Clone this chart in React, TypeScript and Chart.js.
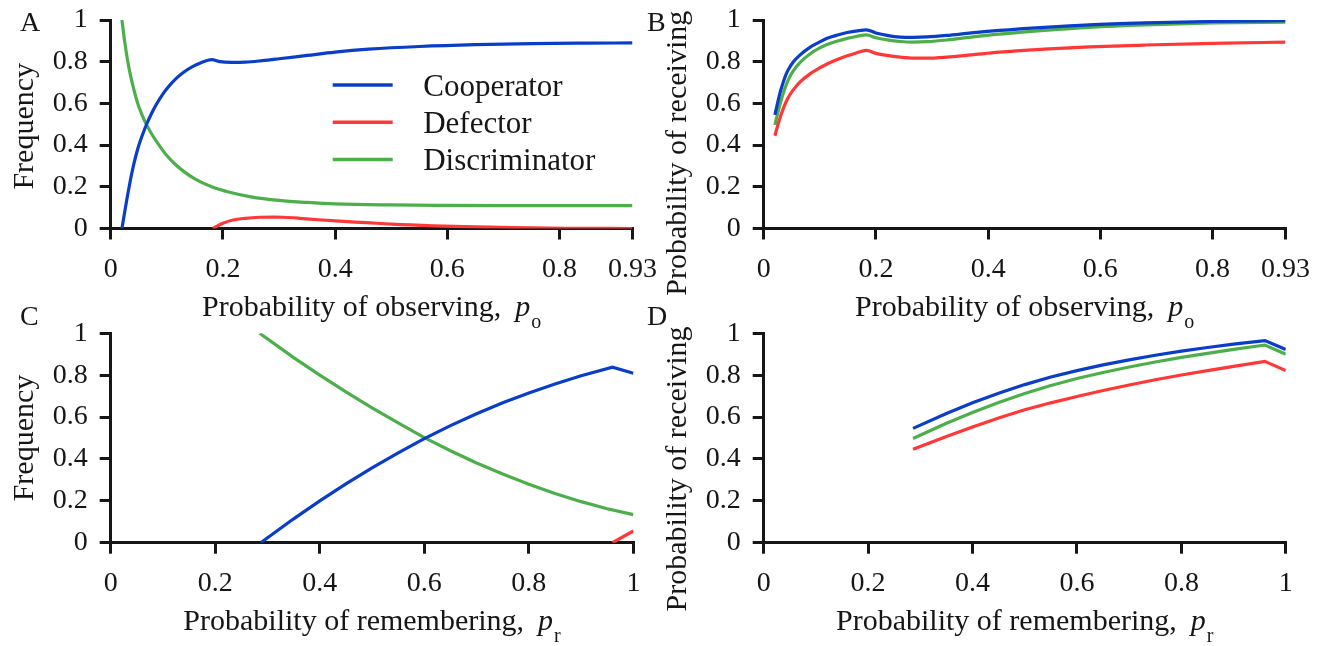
import React, { useEffect, useRef } from 'react';
import { Chart, registerables } from 'chart.js';

Chart.register(...registerables);

const SERIF = "'Liberation Serif', 'Times New Roman', Times, serif";
const INK = '#161616';
const BLUE = '#0a3ec8';
const RED = '#ff3737';
const GREEN = '#4caf4a';

const SERIES_NAMES = ['Cooperator', 'Defector', 'Discriminator'];

// Tick values
const obsTicks = [0, 0.2, 0.4, 0.6, 0.8, 0.93];
const remTicks = [0, 0.2, 0.4, 0.6, 0.8, 1];
const unitTicks = [0, 0.2, 0.4, 0.6, 0.8, 1];

// A: frequency vs probability of observing
const coopObsX = [0.02, 0.025, 0.03, 0.035, 0.04, 0.045, 0.05, 0.056, 0.064, 0.073, 0.082, 0.092, 0.1, 0.115, 0.13, 0.145, 0.16, 0.18, 0.195, 0.215, 0.24, 0.27, 0.3, 0.35, 0.4, 0.46, 0.55, 0.65, 0.75, 0.85, 0.93];
const coopObsFreq = [0, 0.08, 0.158, 0.23, 0.295, 0.35, 0.398, 0.445, 0.5, 0.553, 0.598, 0.641, 0.67, 0.715, 0.749, 0.775, 0.794, 0.81, 0.8, 0.797, 0.798, 0.805, 0.814, 0.83, 0.846, 0.86, 0.873, 0.882, 0.887, 0.889, 0.89];
const defObsX = [0.182, 0.2, 0.218, 0.24, 0.266, 0.29, 0.307, 0.337, 0.37, 0.408, 0.456, 0.5, 0.575, 0.65, 0.693, 0.75, 0.812, 0.93];
const defObsFreq = [0, 0.025, 0.041, 0.049, 0.054, 0.055, 0.054, 0.049, 0.042, 0.035, 0.028, 0.021, 0.013, 0.008, 0.006, 0.003, 0.001, 0];
const discObsX = [0.02, 0.025, 0.03, 0.035, 0.04, 0.0475, 0.055, 0.064, 0.075, 0.088, 0.1, 0.115, 0.13, 0.15, 0.18, 0.21, 0.25, 0.3, 0.35, 0.4, 0.5, 0.6, 0.7, 0.8, 0.93];
const discObsFreq = [1.0, 0.895, 0.808, 0.738, 0.68, 0.605, 0.55, 0.497, 0.445, 0.393, 0.35, 0.308, 0.274, 0.238, 0.2, 0.175, 0.152, 0.135, 0.125, 0.118, 0.113, 0.111, 0.11, 0.11, 0.11];

// B: probability of receiving vs probability of observing
const recvObsX = [0.02, 0.025, 0.03, 0.035, 0.04, 0.045, 0.053, 0.065, 0.083, 0.1, 0.113, 0.13, 0.149, 0.165, 0.183, 0.2, 0.22, 0.243, 0.267, 0.291, 0.326, 0.37, 0.42, 0.5, 0.58, 0.68, 0.8, 0.93];
const coopObsRecv = [0.545, 0.605, 0.66, 0.703, 0.74, 0.767, 0.8, 0.833, 0.87, 0.895, 0.912, 0.927, 0.94, 0.947, 0.953, 0.938, 0.926, 0.918, 0.917, 0.919, 0.926, 0.938, 0.95, 0.965, 0.977, 0.986, 0.993, 0.997];
const defObsRecv = [0.445, 0.494, 0.538, 0.576, 0.608, 0.634, 0.666, 0.703, 0.743, 0.771, 0.789, 0.809, 0.828, 0.842, 0.854, 0.84, 0.83, 0.822, 0.817, 0.817, 0.822, 0.833, 0.846, 0.86, 0.871, 0.88, 0.888, 0.894];
const discObsRecv = [0.497, 0.553, 0.604, 0.65, 0.688, 0.72, 0.757, 0.797, 0.838, 0.866, 0.882, 0.898, 0.912, 0.921, 0.929, 0.915, 0.905, 0.897, 0.894, 0.896, 0.904, 0.918, 0.932, 0.95, 0.965, 0.977, 0.986, 0.99];

// C: frequency vs probability of remembering
const coopRemX = [0.287, 0.35, 0.4, 0.45, 0.5, 0.55, 0.6, 0.65, 0.7, 0.75, 0.8, 0.85, 0.9, 0.96, 1.0];
const coopRemFreq = [0, 0.114, 0.2, 0.281, 0.357, 0.429, 0.497, 0.559, 0.616, 0.668, 0.715, 0.758, 0.797, 0.838, 0.809];
const defRemX = [0.96, 1.0];
const defRemFreq = [0, 0.056];
const discRemX = [0.285, 0.35, 0.4, 0.45, 0.5, 0.55, 0.6, 0.65, 0.7, 0.75, 0.8, 0.85, 0.9, 0.95, 1.0];
const discRemFreq = [1.0, 0.884, 0.8, 0.72, 0.644, 0.572, 0.502, 0.439, 0.381, 0.328, 0.279, 0.235, 0.196, 0.162, 0.134];

// D: probability of receiving vs probability of remembering
const recvRemX = [0.286, 0.35, 0.4, 0.45, 0.5, 0.55, 0.6, 0.65, 0.7, 0.75, 0.8, 0.85, 0.9, 0.96, 1.0];
const coopRemRecv = [0.546, 0.617, 0.668, 0.714, 0.755, 0.791, 0.822, 0.849, 0.873, 0.895, 0.915, 0.932, 0.948, 0.965, 0.923];
const defRemRecv = [0.446, 0.507, 0.553, 0.596, 0.635, 0.668, 0.698, 0.727, 0.753, 0.778, 0.801, 0.822, 0.842, 0.866, 0.822];
const discRemRecv = [0.498, 0.57, 0.622, 0.67, 0.713, 0.751, 0.784, 0.813, 0.839, 0.863, 0.885, 0.904, 0.923, 0.944, 0.9];

const pts = (xs: number[], ys: number[]) => xs.map((x, i) => ({ x, y: ys[i] }));

const fmtTick = (v: number) => {
  if (Math.abs(v - 0.93) < 1e-9) return '0.93';
  if (Math.abs(v) < 1e-9) return '0';
  if (Math.abs(v - 1) < 1e-9) return '1';
  return v.toFixed(1);
};

type Series = { xs: number[]; ys: number[]; color: string; label: string };
type Panel = {
  letter: string;
  box: { left: number; top: number; width: number; height: number };
  area: { left: number; top: number; right: number; bottom: number };
  xMax: number;
  xTicks: number[];
  series: Series[];
  smooth: boolean;
  letterPos: [number, number];
  xTitle: string;
  xSub: string;
  yTitle: string;
  yShift: number;
  legend: boolean;
};

const mk = (xsA: number[][], ysA: number[][]): Series[] =>
  [BLUE, RED, GREEN].map((c, i) => ({ xs: xsA[i], ys: ysA[i], color: c, label: SERIES_NAMES[i] }));

const PANELS: Panel[] = [
  {
    letter: 'A',
    box: { left: 0, top: 0, width: 666, height: 340 },
    area: { left: 110.7, top: 20, right: 632.5, bottom: 228.5 },
    xMax: 0.93,
    xTicks: obsTicks,
    series: mk([coopObsX, defObsX, discObsX], [coopObsFreq, defObsFreq, discObsFreq]),
    smooth: true,
    letterPos: [20, 31],
    xTitle: 'Probability of observing,',
    xSub: 'o',
    yTitle: 'Frequency',
    yShift: 2,
    legend: true,
  },
  {
    letter: 'B',
    box: { left: 640, top: 0, width: 692, height: 340 },
    area: { left: 763.7, top: 20, right: 1285.5, bottom: 228.5 },
    xMax: 0.93,
    xTicks: obsTicks,
    series: mk([recvObsX, recvObsX, recvObsX], [coopObsRecv, defObsRecv, discObsRecv]),
    smooth: true,
    letterPos: [7, 31],
    xTitle: 'Probability of observing,',
    xSub: 'o',
    yTitle: 'Probability of receiving',
    yShift: 29,
    legend: false,
  },
  {
    letter: 'C',
    box: { left: 0, top: 300, width: 666, height: 346 },
    area: { left: 110.7, top: 333.3, right: 633.4, bottom: 542.7 },
    xMax: 1,
    xTicks: remTicks,
    series: mk([coopRemX, defRemX, discRemX], [coopRemFreq, defRemFreq, discRemFreq]),
    smooth: false,
    letterPos: [20, 25],
    xTitle: 'Probability of remembering,',
    xSub: 'r',
    yTitle: 'Frequency',
    yShift: 0,
    legend: false,
  },
  {
    letter: 'D',
    box: { left: 640, top: 300, width: 692, height: 346 },
    area: { left: 763.7, top: 333.3, right: 1285.8, bottom: 542.7 },
    xMax: 1,
    xTicks: remTicks,
    series: mk([recvRemX, recvRemX, recvRemX], [coopRemRecv, defRemRecv, discRemRecv]),
    smooth: false,
    letterPos: [7, 25],
    xTitle: 'Probability of remembering,',
    xSub: 'r',
    yTitle: 'Probability of receiving',
    yShift: 31,
    legend: false,
  },
];

// Panel letter, axis titles (with italic symbol and subscript) and the in-plot legend
const decorPlugin = {
  id: 'decor',
  afterDraw(chart: any, _args: any, o: any) {
    const { ctx, chartArea: ca } = chart;
    ctx.save();
    ctx.fillStyle = INK;
    ctx.textBaseline = 'alphabetic';
    ctx.textAlign = 'left';

    ctx.font = `28px ${SERIF}`;
    ctx.fillText(o.letter, o.letterX, o.letterY);

    ctx.font = `30px ${SERIF}`;
    const wMain = ctx.measureText(o.xTitle).width;
    ctx.font = `italic 30px ${SERIF}`;
    const wP = ctx.measureText('p').width;
    ctx.font = `20px ${SERIF}`;
    const wSub = ctx.measureText(o.xSub).width;
    const gap = 14;
    let x = (ca.left + ca.right) / 2 - (wMain + gap + wP + 1 + wSub) / 2;
    const base = ca.bottom + 87;
    ctx.font = `30px ${SERIF}`;
    ctx.fillText(o.xTitle, x, base);
    x += wMain + gap;
    ctx.font = `italic 30px ${SERIF}`;
    ctx.fillText('p', x, base);
    x += wP + 1;
    ctx.font = `20px ${SERIF}`;
    ctx.fillText(o.xSub, x, base + 12);

    if (o.legend) {
      const lx = ca.left + 222;
      const tx = ca.left + 312.5;
      chart.data.datasets.forEach((ds: any, i: number) => {
        const y = ca.top + 65 + i * 37.2;
        ctx.strokeStyle = ds.borderColor;
        ctx.lineWidth = 3.5;
        ctx.beginPath();
        ctx.moveTo(lx, y);
        ctx.lineTo(lx + 60, y);
        ctx.stroke();
        ctx.font = `31px ${SERIF}`;
        ctx.fillText(ds.label, tx, y + 11);
      });
    }

    ctx.translate(ca.left - 78, (ca.top + ca.bottom) / 2 + o.yShift);
    ctx.rotate(-Math.PI / 2);
    ctx.textAlign = 'center';
    ctx.font = `30px ${SERIF}`;
    ctx.fillText(o.yTitle, 0, 0);
    ctx.restore();
  },
};

const Y_W = 100;
const X_H = 50;

function axisStyle(ticks: number[], isX: boolean, max: number) {
  return {
    type: 'linear' as const,
    min: 0,
    max,
    z: 1,
    afterBuildTicks: (s: any) => {
      s.ticks = ticks.map((v) => ({ value: v }));
    },
    afterFit: (s: any) => {
      if (isX) s.height = X_H;
      else s.width = Y_W;
      s.paddingLeft = 0;
      s.paddingRight = 0;
      s.paddingTop = 0;
      s.paddingBottom = 0;
    },
    ticks: {
      autoSkip: false,
      maxRotation: 0,
      padding: isX ? 13 : 12,
      color: INK,
      font: { family: SERIF, size: 28 },
      callback: (v: any) => fmtTick(Number(v)),
    },
    grid: {
      drawOnChartArea: false,
      drawTicks: true,
      tickLength: 11,
      tickWidth: 3,
      tickColor: INK,
      color: INK,
      lineWidth: 3,
    },
    border: { display: true, width: 3, color: INK },
  };
}

function PanelChart({ p }: { p: Panel }) {
  const ref = useRef<HTMLCanvasElement | null>(null);
  useEffect(() => {
    if (!ref.current) return;
    const { box, area } = p;
    const chart = new Chart(ref.current, {
      type: 'line',
      data: {
        datasets: p.series.map((s) => ({
          label: s.label,
          data: pts(s.xs, s.ys),
          borderColor: s.color,
          backgroundColor: s.color,
          borderWidth: 3.2,
          pointRadius: 0,
          fill: false,
          tension: 0,
          cubicInterpolationMode: p.smooth ? ('monotone' as const) : ('default' as const),
        })),
      },
      options: {
        responsive: false,
        animation: false,
        events: [],
        layout: {
          padding: {
            left: area.left - box.left - Y_W,
            top: area.top - box.top,
            right: box.left + box.width - area.right,
            bottom: box.top + box.height - area.bottom - X_H,
          },
        },
        scales: {
          x: axisStyle(p.xTicks, true, p.xMax),
          y: axisStyle(unitTicks, false, 1),
        },
        plugins: {
          legend: { display: false },
          tooltip: { enabled: false },
          decor: {
            letter: p.letter,
            letterX: p.letterPos[0],
            letterY: p.letterPos[1],
            xTitle: p.xTitle,
            xSub: p.xSub,
            yTitle: p.yTitle,
            yShift: p.yShift,
            legend: p.legend,
          },
        } as any,
      },
      plugins: [decorPlugin],
    });
    return () => chart.destroy();
  }, [p]);
  return (
    <canvas
      ref={ref}
      width={p.box.width}
      height={p.box.height}
      style={{ position: 'absolute', left: p.box.left, top: p.box.top, width: p.box.width, height: p.box.height }}
    />
  );
}

export default function App() {
  return (
    <div style={{ position: 'absolute', left: 0, top: 0, width: 1332, height: 646, background: '#fff', overflow: 'hidden' }}>
      {PANELS.map((p) => (
        <PanelChart key={p.letter} p={p} />
      ))}
    </div>
  );
}
